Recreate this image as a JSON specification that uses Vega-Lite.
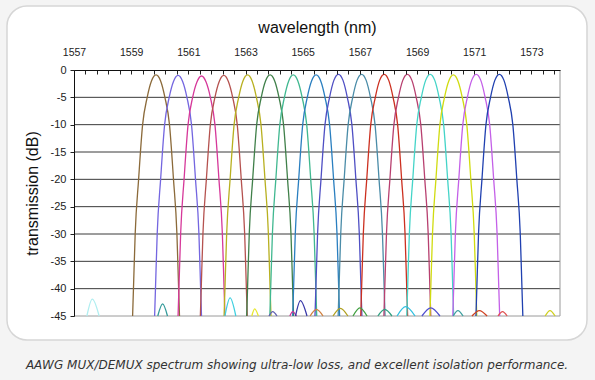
{
  "$schema": "https://vega.github.io/schema/vega-lite/v6.json",
  "width": 486,
  "height": 246,
  "autosize": {"type": "none"},
  "padding": {"left": 74, "top": 70, "right": 35, "bottom": 64},
  "background": "#f4f4f4",
  "config": {"view": {"stroke": null}, "axis": {"labelOverlap": false, "labelFlush": false, "grid": false}},
  "title": {"text": "AAWG MUX/DEMUX spectrum showing ultra-low loss, and excellent isolation performance.", "orient": "bottom", "anchor": "middle", "frame": "group", "font": "DejaVu Sans", "fontStyle": "italic", "fontSize": 12, "fontWeight": "normal", "color": "#333333", "offset": 19, "dx": -20},
  "datasets": {
    "one": [{}],
    "grid": [{"g": -5}, {"g": -10}, {"g": -15}, {"g": -20}, {"g": -25}, {"g": -30}, {"g": -35}, {"g": -40}],
    "spectrum": [
      {"ch":"c1","wl":1559.05,"dB":-45},{"ch":"c1","wl":1559.08,"dB":-40},{"ch":"c1","wl":1559.14,"dB":-30},{"ch":"c1","wl":1559.26,"dB":-20},{"ch":"c1","wl":1559.40,"dB":-10},{"ch":"c1","wl":1559.56,"dB":-5},{"ch":"c1","wl":1559.71,"dB":-2.0},{"ch":"c1","wl":1559.87,"dB":-0.9},{"ch":"c1","wl":1560.03,"dB":-2.0},{"ch":"c1","wl":1560.18,"dB":-5},{"ch":"c1","wl":1560.34,"dB":-10},{"ch":"c1","wl":1560.48,"dB":-20},{"ch":"c1","wl":1560.60,"dB":-30},{"ch":"c1","wl":1560.66,"dB":-40},{"ch":"c1","wl":1560.69,"dB":-45},
      {"ch":"c2","wl":1559.82,"dB":-45},{"ch":"c2","wl":1559.85,"dB":-40},{"ch":"c2","wl":1559.91,"dB":-30},{"ch":"c2","wl":1560.03,"dB":-20},{"ch":"c2","wl":1560.17,"dB":-10},{"ch":"c2","wl":1560.33,"dB":-5},{"ch":"c2","wl":1560.48,"dB":-2.1},{"ch":"c2","wl":1560.64,"dB":-1.0},{"ch":"c2","wl":1560.80,"dB":-2.1},{"ch":"c2","wl":1560.95,"dB":-5},{"ch":"c2","wl":1561.11,"dB":-10},{"ch":"c2","wl":1561.25,"dB":-20},{"ch":"c2","wl":1561.37,"dB":-30},{"ch":"c2","wl":1561.43,"dB":-40},{"ch":"c2","wl":1561.46,"dB":-45},
      {"ch":"c3","wl":1560.64,"dB":-45},{"ch":"c3","wl":1560.67,"dB":-40},{"ch":"c3","wl":1560.73,"dB":-30},{"ch":"c3","wl":1560.85,"dB":-20},{"ch":"c3","wl":1560.99,"dB":-10},{"ch":"c3","wl":1561.15,"dB":-5},{"ch":"c3","wl":1561.30,"dB":-2.2},{"ch":"c3","wl":1561.46,"dB":-1.1},{"ch":"c3","wl":1561.62,"dB":-2.2},{"ch":"c3","wl":1561.77,"dB":-5},{"ch":"c3","wl":1561.93,"dB":-10},{"ch":"c3","wl":1562.07,"dB":-20},{"ch":"c3","wl":1562.19,"dB":-30},{"ch":"c3","wl":1562.25,"dB":-40},{"ch":"c3","wl":1562.28,"dB":-45},
      {"ch":"c4","wl":1561.42,"dB":-45},{"ch":"c4","wl":1561.45,"dB":-40},{"ch":"c4","wl":1561.51,"dB":-30},{"ch":"c4","wl":1561.63,"dB":-20},{"ch":"c4","wl":1561.77,"dB":-10},{"ch":"c4","wl":1561.93,"dB":-5},{"ch":"c4","wl":1562.08,"dB":-2.1},{"ch":"c4","wl":1562.24,"dB":-1.0},{"ch":"c4","wl":1562.40,"dB":-2.1},{"ch":"c4","wl":1562.55,"dB":-5},{"ch":"c4","wl":1562.71,"dB":-10},{"ch":"c4","wl":1562.85,"dB":-20},{"ch":"c4","wl":1562.97,"dB":-30},{"ch":"c4","wl":1563.03,"dB":-40},{"ch":"c4","wl":1563.06,"dB":-45},
      {"ch":"c5","wl":1562.25,"dB":-45},{"ch":"c5","wl":1562.28,"dB":-40},{"ch":"c5","wl":1562.34,"dB":-30},{"ch":"c5","wl":1562.46,"dB":-20},{"ch":"c5","wl":1562.60,"dB":-10},{"ch":"c5","wl":1562.76,"dB":-5},{"ch":"c5","wl":1562.91,"dB":-2.0},{"ch":"c5","wl":1563.07,"dB":-0.9},{"ch":"c5","wl":1563.23,"dB":-2.0},{"ch":"c5","wl":1563.38,"dB":-5},{"ch":"c5","wl":1563.54,"dB":-10},{"ch":"c5","wl":1563.68,"dB":-20},{"ch":"c5","wl":1563.80,"dB":-30},{"ch":"c5","wl":1563.86,"dB":-40},{"ch":"c5","wl":1563.89,"dB":-45},
      {"ch":"c6","wl":1563.04,"dB":-45},{"ch":"c6","wl":1563.07,"dB":-40},{"ch":"c6","wl":1563.13,"dB":-30},{"ch":"c6","wl":1563.25,"dB":-20},{"ch":"c6","wl":1563.39,"dB":-10},{"ch":"c6","wl":1563.55,"dB":-5},{"ch":"c6","wl":1563.70,"dB":-2.0},{"ch":"c6","wl":1563.86,"dB":-0.9},{"ch":"c6","wl":1564.02,"dB":-2.0},{"ch":"c6","wl":1564.17,"dB":-5},{"ch":"c6","wl":1564.33,"dB":-10},{"ch":"c6","wl":1564.47,"dB":-20},{"ch":"c6","wl":1564.59,"dB":-30},{"ch":"c6","wl":1564.65,"dB":-40},{"ch":"c6","wl":1564.68,"dB":-45},
      {"ch":"c7","wl":1563.85,"dB":-45},{"ch":"c7","wl":1563.88,"dB":-40},{"ch":"c7","wl":1563.94,"dB":-30},{"ch":"c7","wl":1564.06,"dB":-20},{"ch":"c7","wl":1564.20,"dB":-10},{"ch":"c7","wl":1564.36,"dB":-5},{"ch":"c7","wl":1564.51,"dB":-2.0},{"ch":"c7","wl":1564.67,"dB":-0.9},{"ch":"c7","wl":1564.83,"dB":-2.0},{"ch":"c7","wl":1564.98,"dB":-5},{"ch":"c7","wl":1565.14,"dB":-10},{"ch":"c7","wl":1565.28,"dB":-20},{"ch":"c7","wl":1565.40,"dB":-30},{"ch":"c7","wl":1565.46,"dB":-40},{"ch":"c7","wl":1565.49,"dB":-45},
      {"ch":"c8","wl":1564.65,"dB":-45},{"ch":"c8","wl":1564.68,"dB":-40},{"ch":"c8","wl":1564.74,"dB":-30},{"ch":"c8","wl":1564.86,"dB":-20},{"ch":"c8","wl":1565.00,"dB":-10},{"ch":"c8","wl":1565.16,"dB":-5},{"ch":"c8","wl":1565.31,"dB":-2.0},{"ch":"c8","wl":1565.47,"dB":-0.9},{"ch":"c8","wl":1565.63,"dB":-2.0},{"ch":"c8","wl":1565.78,"dB":-5},{"ch":"c8","wl":1565.94,"dB":-10},{"ch":"c8","wl":1566.08,"dB":-20},{"ch":"c8","wl":1566.20,"dB":-30},{"ch":"c8","wl":1566.26,"dB":-40},{"ch":"c8","wl":1566.29,"dB":-45},
      {"ch":"c9","wl":1565.43,"dB":-45},{"ch":"c9","wl":1565.46,"dB":-40},{"ch":"c9","wl":1565.52,"dB":-30},{"ch":"c9","wl":1565.64,"dB":-20},{"ch":"c9","wl":1565.78,"dB":-10},{"ch":"c9","wl":1565.94,"dB":-5},{"ch":"c9","wl":1566.09,"dB":-1.9},{"ch":"c9","wl":1566.25,"dB":-0.8},{"ch":"c9","wl":1566.41,"dB":-1.9},{"ch":"c9","wl":1566.56,"dB":-5},{"ch":"c9","wl":1566.72,"dB":-10},{"ch":"c9","wl":1566.86,"dB":-20},{"ch":"c9","wl":1566.98,"dB":-30},{"ch":"c9","wl":1567.04,"dB":-40},{"ch":"c9","wl":1567.07,"dB":-45},
      {"ch":"c10","wl":1566.24,"dB":-45},{"ch":"c10","wl":1566.27,"dB":-40},{"ch":"c10","wl":1566.33,"dB":-30},{"ch":"c10","wl":1566.45,"dB":-20},{"ch":"c10","wl":1566.59,"dB":-10},{"ch":"c10","wl":1566.75,"dB":-5},{"ch":"c10","wl":1566.90,"dB":-1.9},{"ch":"c10","wl":1567.06,"dB":-0.8},{"ch":"c10","wl":1567.22,"dB":-1.9},{"ch":"c10","wl":1567.37,"dB":-5},{"ch":"c10","wl":1567.53,"dB":-10},{"ch":"c10","wl":1567.67,"dB":-20},{"ch":"c10","wl":1567.79,"dB":-30},{"ch":"c10","wl":1567.85,"dB":-40},{"ch":"c10","wl":1567.88,"dB":-45},
      {"ch":"c11","wl":1567.03,"dB":-45},{"ch":"c11","wl":1567.06,"dB":-40},{"ch":"c11","wl":1567.12,"dB":-30},{"ch":"c11","wl":1567.24,"dB":-20},{"ch":"c11","wl":1567.38,"dB":-10},{"ch":"c11","wl":1567.54,"dB":-5},{"ch":"c11","wl":1567.69,"dB":-1.9},{"ch":"c11","wl":1567.85,"dB":-0.8},{"ch":"c11","wl":1568.01,"dB":-1.9},{"ch":"c11","wl":1568.16,"dB":-5},{"ch":"c11","wl":1568.32,"dB":-10},{"ch":"c11","wl":1568.46,"dB":-20},{"ch":"c11","wl":1568.58,"dB":-30},{"ch":"c11","wl":1568.64,"dB":-40},{"ch":"c11","wl":1568.67,"dB":-45},
      {"ch":"c12","wl":1567.84,"dB":-45},{"ch":"c12","wl":1567.87,"dB":-40},{"ch":"c12","wl":1567.93,"dB":-30},{"ch":"c12","wl":1568.05,"dB":-20},{"ch":"c12","wl":1568.19,"dB":-10},{"ch":"c12","wl":1568.35,"dB":-5},{"ch":"c12","wl":1568.50,"dB":-1.9},{"ch":"c12","wl":1568.66,"dB":-0.8},{"ch":"c12","wl":1568.82,"dB":-1.9},{"ch":"c12","wl":1568.97,"dB":-5},{"ch":"c12","wl":1569.13,"dB":-10},{"ch":"c12","wl":1569.27,"dB":-20},{"ch":"c12","wl":1569.39,"dB":-30},{"ch":"c12","wl":1569.45,"dB":-40},{"ch":"c12","wl":1569.48,"dB":-45},
      {"ch":"c13","wl":1568.64,"dB":-45},{"ch":"c13","wl":1568.67,"dB":-40},{"ch":"c13","wl":1568.73,"dB":-30},{"ch":"c13","wl":1568.85,"dB":-20},{"ch":"c13","wl":1568.99,"dB":-10},{"ch":"c13","wl":1569.15,"dB":-5},{"ch":"c13","wl":1569.30,"dB":-1.9},{"ch":"c13","wl":1569.46,"dB":-0.8},{"ch":"c13","wl":1569.62,"dB":-1.9},{"ch":"c13","wl":1569.77,"dB":-5},{"ch":"c13","wl":1569.93,"dB":-10},{"ch":"c13","wl":1570.07,"dB":-20},{"ch":"c13","wl":1570.19,"dB":-30},{"ch":"c13","wl":1570.25,"dB":-40},{"ch":"c13","wl":1570.28,"dB":-45},
      {"ch":"c14","wl":1569.45,"dB":-45},{"ch":"c14","wl":1569.48,"dB":-40},{"ch":"c14","wl":1569.54,"dB":-30},{"ch":"c14","wl":1569.66,"dB":-20},{"ch":"c14","wl":1569.80,"dB":-10},{"ch":"c14","wl":1569.96,"dB":-5},{"ch":"c14","wl":1570.11,"dB":-2.0},{"ch":"c14","wl":1570.27,"dB":-0.9},{"ch":"c14","wl":1570.43,"dB":-2.0},{"ch":"c14","wl":1570.58,"dB":-5},{"ch":"c14","wl":1570.74,"dB":-10},{"ch":"c14","wl":1570.88,"dB":-20},{"ch":"c14","wl":1571.00,"dB":-30},{"ch":"c14","wl":1571.06,"dB":-40},{"ch":"c14","wl":1571.09,"dB":-45},
      {"ch":"c15","wl":1570.25,"dB":-45},{"ch":"c15","wl":1570.28,"dB":-40},{"ch":"c15","wl":1570.34,"dB":-30},{"ch":"c15","wl":1570.46,"dB":-20},{"ch":"c15","wl":1570.60,"dB":-10},{"ch":"c15","wl":1570.76,"dB":-5},{"ch":"c15","wl":1570.91,"dB":-1.9},{"ch":"c15","wl":1571.07,"dB":-0.8},{"ch":"c15","wl":1571.23,"dB":-1.9},{"ch":"c15","wl":1571.38,"dB":-5},{"ch":"c15","wl":1571.54,"dB":-10},{"ch":"c15","wl":1571.68,"dB":-20},{"ch":"c15","wl":1571.80,"dB":-30},{"ch":"c15","wl":1571.86,"dB":-40},{"ch":"c15","wl":1571.89,"dB":-45},
      {"ch":"c16","wl":1571.06,"dB":-45},{"ch":"c16","wl":1571.09,"dB":-40},{"ch":"c16","wl":1571.15,"dB":-30},{"ch":"c16","wl":1571.27,"dB":-20},{"ch":"c16","wl":1571.41,"dB":-10},{"ch":"c16","wl":1571.57,"dB":-5},{"ch":"c16","wl":1571.72,"dB":-1.9},{"ch":"c16","wl":1571.88,"dB":-0.8},{"ch":"c16","wl":1572.04,"dB":-1.9},{"ch":"c16","wl":1572.19,"dB":-5},{"ch":"c16","wl":1572.35,"dB":-10},{"ch":"c16","wl":1572.49,"dB":-20},{"ch":"c16","wl":1572.61,"dB":-30},{"ch":"c16","wl":1572.67,"dB":-40},{"ch":"c16","wl":1572.70,"dB":-45},
      {"ch":"s1","wl":1557.45,"dB":-45},{"ch":"s1","wl":1557.64,"dB":-41.9},{"ch":"s1","wl":1557.88,"dB":-45},
      {"ch":"s2","wl":1559.93,"dB":-45},{"ch":"s2","wl":1560.10,"dB":-42.8},{"ch":"s2","wl":1560.27,"dB":-45},
      {"ch":"s3","wl":1562.28,"dB":-45},{"ch":"s3","wl":1562.46,"dB":-41.7},{"ch":"s3","wl":1562.66,"dB":-45},
      {"ch":"s4","wl":1563.22,"dB":-45},{"ch":"s4","wl":1563.32,"dB":-43.7},{"ch":"s4","wl":1563.45,"dB":-45},
      {"ch":"s5","wl":1563.82,"dB":-45},{"ch":"s5","wl":1563.95,"dB":-44.2},{"ch":"s5","wl":1564.10,"dB":-45},
      {"ch":"s6","wl":1564.55,"dB":-45},{"ch":"s6","wl":1564.65,"dB":-44.2},{"ch":"s6","wl":1564.78,"dB":-45},
      {"ch":"s7","wl":1564.75,"dB":-45},{"ch":"s7","wl":1564.92,"dB":-42.2},{"ch":"s7","wl":1565.15,"dB":-45},
      {"ch":"s8","wl":1565.26,"dB":-45},{"ch":"s8","wl":1565.48,"dB":-43.8},{"ch":"s8","wl":1565.71,"dB":-45},
      {"ch":"s9","wl":1566.06,"dB":-45},{"ch":"s9","wl":1566.32,"dB":-43.6},{"ch":"s9","wl":1566.58,"dB":-45},
      {"ch":"s10","wl":1566.76,"dB":-45},{"ch":"s10","wl":1567.00,"dB":-43.5},{"ch":"s10","wl":1567.25,"dB":-45},
      {"ch":"s11","wl":1567.63,"dB":-45},{"ch":"s11","wl":1567.87,"dB":-43.8},{"ch":"s11","wl":1568.12,"dB":-45},
      {"ch":"s12","wl":1568.30,"dB":-45},{"ch":"s12","wl":1568.60,"dB":-43.3},{"ch":"s12","wl":1568.93,"dB":-45},
      {"ch":"s13","wl":1569.17,"dB":-45},{"ch":"s13","wl":1569.48,"dB":-43.5},{"ch":"s13","wl":1569.80,"dB":-45},
      {"ch":"s14","wl":1570.26,"dB":-45},{"ch":"s14","wl":1570.43,"dB":-44.0},{"ch":"s14","wl":1570.61,"dB":-45},
      {"ch":"s15","wl":1570.92,"dB":-45},{"ch":"s15","wl":1571.18,"dB":-44.0},{"ch":"s15","wl":1571.45,"dB":-45},
      {"ch":"s16","wl":1571.83,"dB":-45},{"ch":"s16","wl":1571.99,"dB":-44.2},{"ch":"s16","wl":1572.15,"dB":-45},
      {"ch":"s17","wl":1573.48,"dB":-45},{"ch":"s17","wl":1573.65,"dB":-44.0},{"ch":"s17","wl":1573.83,"dB":-45}
    ]
  },
  "layer": [
    {
      "data": {"name": "one"},
      "mark": {"type": "rect", "fill": "#ffffff", "stroke": "#d6d6d6", "strokeWidth": 1.5, "cornerRadius": 20, "clip": false},
      "encoding": {
        "x": {"datum": 1554.656, "type": "quantitative", "scale": {"domain": [1557, 1574], "nice": false, "zero": false}},
        "x2": {"datum": 1574.944},
        "y": {"datum": 11.707, "type": "quantitative", "scale": {"domain": [-45, 0], "nice": false}},
        "y2": {"datum": -49.39}
      }
    },
    {
      "data": {"name": "grid"},
      "mark": {"type": "rule", "color": "#3a3a3a", "strokeWidth": 1},
      "encoding": {"y": {"field": "g", "type": "quantitative", "scale": {"domain": [-45, 0], "nice": false}}}
    },
    {
      "data": {"name": "one"},
      "mark": {"type": "rule", "color": "#9a9a9a", "strokeWidth": 1},
      "encoding": {"y": {"datum": -45, "type": "quantitative", "scale": {"domain": [-45, 0], "nice": false}}}
    },
    {
      "data": {"name": "one"},
      "mark": {"type": "rule", "color": "#9a9a9a", "strokeWidth": 1},
      "encoding": {"x": {"datum": 1574, "type": "quantitative", "scale": {"domain": [1557, 1574], "nice": false, "zero": false}}}
    },
    {
      "data": {"name": "spectrum"},
      "mark": {"type": "line", "interpolate": "monotone", "strokeWidth": 1.3},
      "encoding": {
        "x": {
          "field": "wl", "type": "quantitative",
          "scale": {"domain": [1557, 1574], "nice": false, "zero": false},
          "axis": {
            "orient": "top", "title": "wavelength (nm)", "zindex": 1, "grid": false,
            "values": [1557, 1557.4, 1557.8, 1558.2, 1558.6, 1559, 1559.4, 1559.8, 1560.2, 1560.6, 1561, 1561.4, 1561.8, 1562.2, 1562.6, 1563, 1563.4, 1563.8, 1564.2, 1564.6, 1565, 1565.4, 1565.8, 1566.2, 1566.6, 1567, 1567.4, 1567.8, 1568.2, 1568.6, 1569, 1569.4, 1569.8, 1570.2, 1570.6, 1571, 1571.4, 1571.8, 1572.2, 1572.6, 1573, 1573.4, 1573.8],
            "tickCount": 200,
            "labelExpr": "abs((datum.value - 1557) / 2 - round((datum.value - 1557) / 2)) < 0.01 ? format(datum.value, '.0f') : ''",
            "labelOverlap": false, "labelFlush": false,
            "labelFont": "Liberation Sans", "labelFontSize": 10.5, "labelColor": "#222222",
            "tickSize": -4, "tickColor": "#222222", "labelPadding": 17,
            "domainColor": "#111111", "domainWidth": 1,
            "titleFont": "Liberation Sans", "titleFontSize": 16, "titleFontWeight": "normal", "titleColor": "#111111", "titlePadding": 12
          }
        },
        "y": {
          "field": "dB", "type": "quantitative",
          "scale": {"domain": [-45, 0], "nice": false},
          "axis": {
            "title": "transmission (dB)", "zindex": 1, "grid": false,
            "values": [0, -5, -10, -15, -20, -25, -30, -35, -40, -45],
            "tickCount": 100,
            "labelExpr": "'' + datum.value",
            "labelOverlap": false,
            "labelFont": "Liberation Sans", "labelFontSize": 11, "labelColor": "#222222",
            "tickSize": 4, "tickColor": "#222222", "labelPadding": 4,
            "domainColor": "#111111", "domainWidth": 1,
            "titleFont": "Liberation Sans", "titleFontSize": 16, "titleFontWeight": "normal", "titleColor": "#111111", "titlePadding": 10
          }
        },
        "color": {
          "field": "ch", "type": "nominal", "legend": null,
          "scale": {
            "domain": ["c1","c2","c3","c4","c5","c6","c7","c8","c9","c10","c11","c12","c13","c14","c15","c16","s1","s2","s3","s4","s5","s6","s7","s8","s9","s10","s11","s12","s13","s14","s15","s16","s17"],
            "range": ["#8b6a3a","#7466e0","#d6389a","#b5524f","#b8b020","#40804a","#40b890","#2a7fc0","#4f4fc4","#4a8ca8","#cc3020","#b84070","#44d4c8","#d0dc10","#c460e8","#2040b0","#b0eef0","#339a9a","#40d0e0","#e8e830","#6060b0","#cc3399","#3838a8","#d08040","#b0a020","#40a040","#30a080","#30c0e0","#5050d0","#40a0a0","#d04020","#e05050","#d0d020"]
          }
        }
      }
    }
  ]
}
